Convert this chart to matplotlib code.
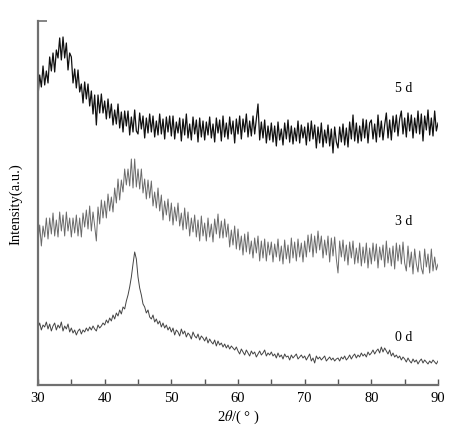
import numpy as np
import matplotlib
matplotlib.use("Agg")
import matplotlib.pyplot as plt
from matplotlib.ticker import MultipleLocator, FixedLocator

# XRD intensities (a.u., stacked), read at 0.25 deg steps from 30 to 90
d5 = [
    289, 310, 298, 319, 300, 314, 302, 328, 314, 332, 313, 335, 327, 347, 325, 348, 327, 342, 315, 332,
    328, 302, 316, 297, 315, 293, 301, 282, 303, 286, 301, 279, 294, 271, 290, 260, 290, 272, 291, 272,
    284, 266, 286, 267, 281, 260, 275, 261, 281, 257, 273, 253, 274, 259, 274, 250, 268, 253, 275, 254,
    251, 272, 256, 269, 247, 267, 252, 271, 253, 269, 248, 264, 250, 271, 251, 266, 246, 268, 253, 269,
    249, 269, 246, 263, 252, 267, 244, 266, 250, 271, 247, 261, 245, 268, 251, 265, 243, 267, 248, 264,
    245, 263, 250, 268, 247, 261, 243, 267, 252, 265, 244, 269, 248, 262, 246, 268, 251, 264, 242, 266,
    251, 269, 246, 266, 253, 271, 248, 264, 249, 269, 251, 266, 281, 245, 263, 247, 265, 242, 259, 245,
    262, 243, 259, 239, 263, 245, 256, 240, 262, 246, 265, 243, 259, 241, 257, 244, 264, 242, 260, 247,
    258, 240, 262, 244, 264, 246, 260, 237, 258, 242, 262, 238, 255, 242, 260, 239, 256, 232, 258, 243,
    237, 258, 243, 261, 240, 257, 238, 263, 246, 270, 244, 262, 242, 259, 244, 266, 247, 265, 242, 262,
    265, 246, 261, 243, 270, 248, 264, 245, 260, 272, 247, 265, 245, 269, 253, 270, 249, 266, 274, 251,
    267, 248, 272, 254, 270, 247, 267, 252, 274, 251, 271, 244, 269, 255, 275, 250, 267, 249, 274, 254,
    262,
]
d3 = [
    141, 160, 139, 159, 148, 167, 146, 167, 151, 172, 149, 165, 148, 173, 154, 170, 149, 173, 154, 167,
    148, 167, 152, 170, 149, 167, 148, 172, 158, 175, 156, 179, 154, 173, 159, 144, 178, 161, 185, 167,
    184, 167, 191, 174, 188, 173, 197, 182, 206, 185, 205, 193, 216, 200, 216, 199, 226, 197, 226, 198,
    216, 196, 216, 192, 206, 186, 205, 187, 204, 179, 193, 177, 197, 174, 190, 165, 184, 170, 186, 164,
    182, 160, 178, 164, 182, 159, 172, 155, 177, 156, 173, 149, 167, 153, 170, 148, 165, 144, 169, 149,
    162, 144, 167, 148, 161, 143, 166, 151, 171, 147, 164, 147, 166, 148, 161, 138, 155, 140, 159, 136,
    156, 135, 149, 130, 151, 133, 153, 131, 144, 127, 147, 132, 149, 124, 144, 127, 146, 124, 143, 130,
    143, 123, 141, 128, 146, 124, 139, 121, 145, 126, 140, 122, 147, 127, 143, 124, 146, 128, 142, 123,
    144, 128, 150, 133, 151, 128, 149, 132, 154, 135, 149, 127, 145, 130, 149, 123, 147, 129, 148, 126,
    112, 144, 128, 145, 124, 140, 120, 143, 127, 144, 121, 137, 122, 142, 119, 138, 122, 142, 117, 137,
    121, 142, 124, 141, 117, 138, 125, 140, 118, 144, 122, 137, 119, 139, 116, 142, 124, 140, 121, 143,
    122, 114, 139, 118, 133, 111, 136, 121, 113, 134, 117, 111, 136, 118, 131, 112, 136, 114, 128, 115,
    121,
]
d0 = [
    57, 62, 55, 60, 58, 63, 56, 61, 54, 59, 62, 55, 60, 57, 63, 54, 59, 56, 61, 53,
    57, 52, 55, 50, 54, 56, 51, 55, 53, 57, 54, 58, 55, 59, 56, 54, 60, 57, 59, 62,
    60, 65, 62, 67, 64, 70, 66, 72, 69, 75, 71, 78, 76, 84, 90, 98, 108, 121, 133, 126,
    108, 97, 90, 81, 78, 72, 75, 68, 66, 70, 63, 66, 61, 64, 58, 62, 57, 60, 55, 58,
    53, 57, 50, 55, 53, 49, 56, 51, 54, 48, 52, 50, 46, 53, 49, 47, 51, 45, 49, 47,
    44, 48, 42, 46, 43, 41, 45, 39, 44, 40, 42, 38, 41, 37, 40, 36, 39, 37, 35, 38,
    34, 31, 36, 33, 30, 35, 32, 29, 34, 31, 33, 28, 31, 34, 30, 32, 35, 29, 32, 30,
    33, 29, 31, 27, 32, 28, 30, 26, 31, 28, 29, 25, 30, 27, 29, 31, 26, 28, 30, 27,
    29, 25, 28, 31, 24, 27, 22, 29, 26, 28, 25, 27, 29, 24, 26, 28, 25, 27, 24, 26,
    27, 24, 28, 26, 29, 25, 27, 30, 26, 29, 31, 27, 30, 28, 32, 29, 31, 28, 33, 30,
    32, 35, 31, 34, 36, 32, 38, 33, 37, 34, 31, 35, 29, 32, 28, 30, 27, 29, 25, 28,
    26, 23, 27, 24, 22, 26, 23, 25, 21, 24, 26, 22, 25, 23, 21, 24, 22, 25, 23, 21,
    24,
]
labels = ["5 d", "3 d", "0 d"]
label_y = [297, 164, 49]

plt.rcParams["font.family"] = ["Liberation Serif", "DejaVu Serif"]
plt.rcParams["mathtext.fontset"] = "stix"

fig = plt.figure(figsize=(4.67, 4.31), dpi=100)
ax = fig.add_axes([0.0814, 0.1044, 0.8565, 0.8446])

colors = ["#111111", "#6a6a6a", "#444444"]
widths = [0.9, 0.7, 0.7]
for vals, c, w in zip([d5, d3, d0], colors, widths):
    x = np.linspace(30, 90, len(vals))
    ax.plot(x, vals, color=c, lw=w)

for lab, ly in zip(labels, label_y):
    ax.text(84.8, ly, lab, ha="center", va="center", fontsize=10)

ax.set_xlim(30, 90)
ax.set_ylim(0, 364)
ax.xaxis.set_major_locator(MultipleLocator(10))
ax.xaxis.set_minor_locator(MultipleLocator(5))
ax.yaxis.set_major_locator(FixedLocator([364]))
ax.set_yticklabels([])

for s in ["top", "right"]:
    ax.spines[s].set_visible(False)
for s in ["left", "bottom"]:
    ax.spines[s].set_color("#707070")
    ax.spines[s].set_linewidth(1.6)

ax.tick_params(axis="x", which="both", direction="in", length=4.5, width=1.0,
               color="#555555", labelsize=10.5, pad=4)
ax.tick_params(axis="y", direction="in", length=6.5, width=1.2, color="#707070")

ax.set_xlabel(r"2$\theta$/( ° )", fontsize=10.5, labelpad=3)
ax.set_ylabel("Intensity(a.u.)", fontsize=10.5, labelpad=8)

fig.savefig("out.png", dpi=100)
